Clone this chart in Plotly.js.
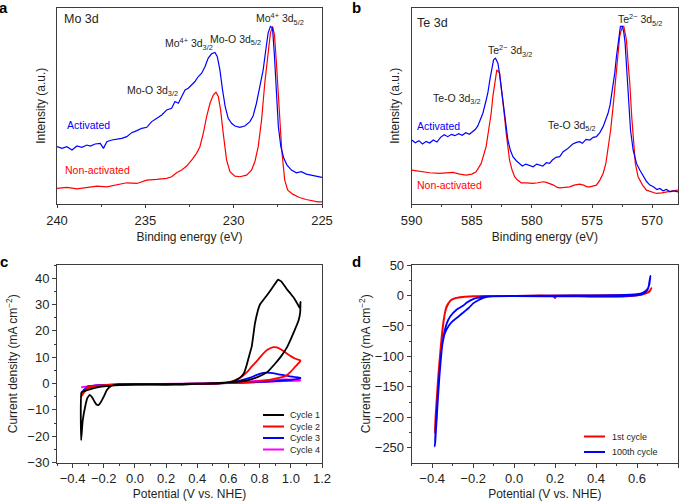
<!DOCTYPE html>
<html>
<head>
<meta charset="utf-8">
<script src="https://cdn.plot.ly/plotly-3.0.1.min.js"></script>
<style>html,body{margin:0;padding:0;background:#fff;}#chart{width:685px;height:501px;}</style>
</head>
<body>
<div id="chart"></div>
<script>
// ---------- Panel a: Mo 3d XPS ----------
const moEnergyAct = [240.0,239.72,239.44,239.15,238.87,238.59,238.31,238.12,237.84,237.55,237.37,237.18,236.9,236.61,236.33,236.05,235.77,235.48,235.2,234.92,234.64,234.35,234.07,233.79,233.51,233.32,233.13,232.94,232.75,232.57,232.38,232.19,232.0,231.81,231.62,231.44,231.25,231.06,230.93,230.78,230.63,230.48,230.31,230.12,229.93,229.65,229.37,229.08,228.9,228.71,228.52,228.33,228.18,228.05,227.92,227.8,227.69,227.58,227.47,227.33,227.16,226.98,226.73,226.45,226.17,225.89,225.6,225.32,225.0];
const moIntAct = [170,165,170,160,172,168,175,172,178,180,165,185,190,192,195,200,212,218,225,228,245,255,265,280,285,305,300,320,340,345,355,365,380,390,410,435,448,452,440,400,340,290,255,240,232,228,232,245,262,300,350,400,460,510,530,525,440,330,230,170,135,115,100,92,95,88,85,82,78];
const moEnergyNon = [240,239.44,238.87,238.31,237.74,237.18,236.61,236.05,235.48,234.92,234.35,233.79,233.51,233.23,232.94,232.66,232.38,232.1,231.91,231.72,231.53,231.34,231.15,231.0,230.87,230.74,230.59,230.4,230.21,229.93,229.65,229.27,228.99,228.8,228.61,228.42,228.24,228.05,227.92,227.8,227.69,227.58,227.43,227.28,227.11,226.94,226.66,226.28,225.9,225.52,225.24,225.0];
const moIntNon = [45,48,44,49,52,50,56,62,60,70,72,75,80,92,100,112,130,150,170,210,260,300,325,333,320,280,210,130,95,82,80,85,100,125,170,250,360,450,510,530,505,420,290,160,70,40,28,18,12,8,5,5];

// ---------- Panel b: Te 3d XPS ----------
const teEnergyAct = [590.0,589.7,589.4,589.1,588.8,588.5,588.2,587.9,587.6,587.3,587.0,586.7,586.4,586.1,585.8,585.5,585.2,584.9,584.7,584.5,584.3,584.08,583.87,583.67,583.5,583.39,583.19,583.03,582.83,582.7,582.56,582.42,582.28,582.14,582.0,581.8,581.58,581.3,581.03,580.8,580.5,580.19,579.9,579.6,579.36,579.1,578.8,578.53,578.3,578.0,577.69,577.4,577.1,576.86,576.6,576.3,576.03,575.8,575.5,575.19,574.9,574.64,574.35,574.08,573.85,573.67,573.5,573.39,573.25,573.11,572.97,572.83,572.64,572.47,572.35,572.25,572.1,571.97,571.8,571.58,571.3,571.03,570.7,570.45,570.19,569.9,569.6,569.36,569.1,568.8,568.53,568.2,567.85];
const teIntAct = [190,182,188,178,186,181,190,184,198,206,200,207,203,209,204,212,207,216,222,232,250,270,300,330,370,395,430,435,420,390,350,300,260,220,190,160,140,128,120,112,118,115,110,118,115,112,122,120,130,138,140,155,162,170,178,183,185,180,192,190,198,200,212,230,250,270,295,320,350,390,440,480,530,530,510,480,400,310,220,160,120,100,80,65,55,50,42,45,38,42,35,38,35];
const teEnergyNon = [590.0,589.5,589.08,588.5,587.69,587.1,586.58,586.0,585.47,585.0,584.64,584.22,583.81,583.6,583.39,583.25,583.11,582.92,582.69,582.55,582.42,582.28,582.14,582.0,581.86,581.65,581.44,581.2,580.89,580.5,580.2,579.92,579.5,579.08,578.8,578.53,578.2,577.9,577.69,577.3,576.86,576.5,576.03,575.7,575.4,575.19,574.9,574.64,574.35,574.08,573.85,573.67,573.45,573.25,573.05,572.83,572.7,572.56,572.45,572.36,572.25,572.14,572.0,571.86,571.7,571.58,571.4,571.17,570.8,570.47,570.0,569.64,569.2,568.81,568.3,567.85];
const teIntNon = [100,97,95,92,90,92,93,88,85,88,95,120,170,220,270,320,360,400,390,350,310,260,210,170,130,100,80,70,62,62,60,60,62,65,63,60,55,48,47,48,50,55,58,55,50,50,52,55,70,90,120,160,220,290,370,440,500,520,530,530,510,490,420,360,260,190,120,80,55,40,33,30,32,35,38,40];

// ---------- Panel c: CV cycles ----------
const cyc1V = [-0.345,-0.335,-0.32,-0.305,-0.29,-0.275,-0.26,-0.245,-0.235,-0.22,-0.2,-0.18,-0.16,-0.13,-0.1,0.0,0.2,0.4,0.55,0.6,0.64,0.68,0.7,0.717,0.735,0.749,0.77,0.79,0.802,0.847,0.889,0.918,0.94,0.97,1.0,1.02,1.045,1.058,1.062,1.06,1.05,1.02,0.977,0.935,0.9,0.85,0.79,0.72,0.64,0.5,0.3,0.2,0.0,-0.1,-0.2,-0.25,-0.3,-0.342,-0.345];
const cyc1J = [-21.5,-14,-9,-5.5,-4.3,-5.2,-6.8,-8.1,-8.2,-7.2,-5,-2.5,-1.2,-0.5,-0.3,-0.2,-0.2,-0.1,0.1,0.4,1.0,2.5,4.0,7,11,14,22.8,28,30,33.5,37,39.4,38.7,36.2,34,32.5,30,28.5,31,27,24,19.6,13.9,10.1,7.6,4.4,2.5,1.2,0.5,0.1,-0.4,-0.5,-0.4,-0.6,-1.1,-1.6,-2.4,-3.3,-21.5];
const cyc2V = [-0.345,-0.33,-0.3,-0.25,-0.2,-0.1,0.0,0.2,0.4,0.55,0.6,0.64,0.68,0.72,0.75,0.786,0.82,0.85,0.888,0.91,0.94,0.97,1.0,1.03,1.06,1.06,1.03,1.0,0.97,0.93,0.88,0.82,0.75,0.65,0.5,0.3,0.0,-0.2,-0.3,-0.345];
const cyc2J = [-5,-3,-1.8,-1.0,-0.6,-0.3,-0.2,-0.2,-0.1,0.1,0.4,1.2,2.4,4.4,6.5,8.8,11.2,12.8,13.8,13.7,12.8,11.6,10.4,9.4,8.8,8.4,6.5,4.5,3.0,2.2,1.6,1.0,0.6,0.3,0.0,-0.3,-0.3,-0.7,-1.2,-5];
const cyc3V = [-0.345,-0.33,-0.3,-0.25,-0.2,-0.1,0.0,0.2,0.4,0.55,0.62,0.68,0.74,0.79,0.84,0.87,0.92,0.97,1.02,1.06,1.06,1.0,0.9,0.8,0.7,0.5,0.3,0.0,-0.2,-0.3,-0.345];
const cyc3J = [-3.8,-2.5,-1.5,-0.9,-0.6,-0.3,-0.2,-0.2,-0.1,0.1,0.5,1.2,2.2,3.5,4.1,4.0,3.5,3.0,2.5,2.2,1.9,1.4,0.9,0.6,0.3,0.0,-0.2,-0.3,-0.6,-1.1,-3.8];
const cyc4V = [-0.345,-0.3,-0.2,0.0,0.3,0.5,0.6,0.7,0.8,0.9,0.97,1.02,1.06,1.06,0.95,0.8,0.6,0.3,0.0,-0.2,-0.3,-0.345];
const cyc4J = [-1.5,-1.0,-0.5,-0.2,-0.2,0.0,0.3,0.7,1.1,1.5,1.6,1.5,1.3,1.1,0.9,0.5,0.2,-0.1,-0.3,-0.6,-1.0,-1.5];
const cycNames = ['Cycle 1','Cycle 2','Cycle 3','Cycle 4'];

// ---------- Panel d: 1st vs 100th cycle ----------
const lsv1V = [0.67,0.66,0.64,0.6,0.5,0.3,0.0,-0.1,-0.15,-0.2,-0.22,-0.27,-0.3,-0.315,-0.33,-0.34,-0.35,-0.36,-0.37,-0.38,-0.388,-0.383,-0.375,-0.365,-0.355,-0.345,-0.335,-0.32,-0.305,-0.28,-0.25,-0.2,-0.1,0.0,0.19,0.2,0.205,0.4,0.55,0.6,0.64,0.66,0.67];
const lsv1J = [12,6,3,1.5,0.5,0,-0.5,-0.8,-0.8,-1.2,-1.5,-3,-6,-10,-18,-32,-55,-90,-130,-180,-225,-218,-170,-120,-78,-45,-25,-13,-7,-4,-2.5,-1.5,-0.8,-0.8,-1,-4.5,-1,-2,-1.5,0,3,7,12];
const lsv100V = [0.665,0.66,0.65,0.63,0.6,0.5,0.3,0.0,-0.08,-0.12,-0.15,-0.17,-0.2,-0.22,-0.248,-0.27,-0.3,-0.32,-0.338,-0.35,-0.36,-0.37,-0.38,-0.388,-0.385,-0.375,-0.365,-0.355,-0.345,-0.33,-0.313,-0.28,-0.25,-0.232,-0.2,-0.18,-0.15,-0.12,0.0,0.3,0.5,0.6,0.64,0.655,0.66,0.665];
const lsv100J = [32,18,10,5,2,0.5,0,-0.5,-1,-2,-4,-7,-13,-20,-28,-34,-42,-50,-62,-80,-108,-150,-200,-248,-240,-185,-135,-95,-68,-47,-35,-23,-17,-12,-6,-4,-2.5,-1.5,-1,-1.5,-1.5,0,5,12,22,32];
const lsvNames = ['1st cycle','100th cycle'];

// ---------- layout helpers ----------
const W = 685, H = 501;
const FONT = 'Liberation Sans, Arial, Helvetica, sans-serif';
const TXT = '#231f20';
const AX = '#3c3c3c';
const fx = p => p / W;
const fy = p => 1 - p / H;

function spec(x, y, color, xa, ya) {
  return {x, y, type: 'scatter', mode: 'lines', xaxis: xa, yaxis: ya, showlegend: false,
    line: {color, width: 1.2}, hoverinfo: 'skip'};
}
function cv(x, y, color, xa, ya, name, sm) {
  return {x, y, name, type: 'scatter', mode: 'lines', xaxis: xa, yaxis: ya, showlegend: false,
    line: {color, width: 1.8, shape: 'spline', smoothing: sm}};
}

const data = [
  spec(moEnergyNon, moIntNon, '#ff0000', 'x', 'y'),
  spec(moEnergyAct, moIntAct, '#0000ff', 'x', 'y'),
  spec(teEnergyNon, teIntNon, '#ff0000', 'x2', 'y2'),
  spec(teEnergyAct, teIntAct, '#0000ff', 'x2', 'y2'),
  cv(cyc4V, cyc4J, '#ff00ff', 'x3', 'y3', cycNames[3], 0.35),
  cv(cyc3V, cyc3J, '#0000ff', 'x3', 'y3', cycNames[2], 0.35),
  cv(cyc2V, cyc2J, '#ff0000', 'x3', 'y3', cycNames[1], 0.35),
  cv(cyc1V, cyc1J, '#000000', 'x3', 'y3', cycNames[0], 0.35),
  cv(lsv1V, lsv1J, '#ff0000', 'x4', 'y4', lsvNames[0], 0.5),
  cv(lsv100V, lsv100J, '#0000ff', 'x4', 'y4', lsvNames[1], 0.5)
];

const tickFont = {family: FONT, size: 13, color: TXT};
const titleFont = {family: FONT, size: 12, color: TXT};
function axBase(extra) {
  return Object.assign({
    showgrid: false, zeroline: false, showline: true, mirror: true,
    linecolor: AX, linewidth: 1, ticks: 'outside', ticklen: 4, tickwidth: 1, tickcolor: AX,
    tickfont: tickFont, automargin: false
  }, extra);
}

const dA = [fx(57), fx(322)], dB = [fx(411.7), fx(678)];
const dTop = [fy(203.5), fy(8)], dBot = [fy(462.5), fy(265)];

const layout = {
  width: W, height: H, margin: {l: 0, r: 0, t: 0, b: 0},
  paper_bgcolor: '#fff', plot_bgcolor: '#fff',
  font: {family: FONT, color: TXT},
  xaxis: axBase({domain: dA, anchor: 'y', range: [240, 225], dtick: 5, ticklen: 3, ticklabelstandoff: 2,
    minor: {ticks: 'outside', dtick: 2.5, ticklen: 2, tickcolor: AX},
    title: {text: 'Binding energy (eV)', font: titleFont, standoff: 5}}),
  yaxis: axBase({domain: dTop, anchor: 'x', range: [0, 585], showticklabels: false, ticks: '',
    title: {text: 'Intensity (a.u.)', font: titleFont, standoff: 7}}),
  xaxis2: axBase({domain: dB, anchor: 'y2', range: [590, 567.85], dtick: 5, ticklen: 3, ticklabelstandoff: 2,
    minor: {ticks: 'outside', dtick: 2.5, ticklen: 2, tickcolor: AX},
    title: {text: 'Binding energy (eV)', font: titleFont, standoff: 5}}),
  yaxis2: axBase({domain: dTop, anchor: 'x2', range: [0, 585], showticklabels: false, ticks: '',
    title: {text: 'Intensity (a.u.)', font: titleFont, standoff: 8}}),
  xaxis3: axBase({domain: dA, anchor: 'y3', range: [-0.5, 1.2], dtick: 0.2, tick0: 0, tickformat: '.1f',
    minor: {ticks: 'outside', dtick: 0.1, ticklen: 2, tickcolor: AX},
    title: {text: 'Potential (V vs. NHE)', font: titleFont, standoff: 4}}),
  yaxis3: axBase({domain: dBot, anchor: 'x3', range: [-30, 45], dtick: 10, tick0: 0,
    minor: {ticks: 'outside', dtick: 5, ticklen: 2, tickcolor: AX},
    title: {text: 'Current density (mA cm<sup>−2</sup>)', font: titleFont, standoff: 7}}),
  xaxis4: axBase({domain: dB, anchor: 'y4', range: [-0.5, 0.8], dtick: 0.2, tick0: 0, tickformat: '.1f',
    minor: {ticks: 'outside', dtick: 0.1, ticklen: 2, tickcolor: AX},
    title: {text: 'Potential (V vs. NHE)', font: titleFont, standoff: 4}}),
  yaxis4: axBase({domain: dBot, anchor: 'x4', range: [-274, 50], dtick: 50, tick0: 0,
    minor: {ticks: 'outside', dtick: 25, ticklen: 2, tickcolor: AX},
    title: {text: 'Current density (mA cm<sup>−2</sup>)', font: titleFont, standoff: 1}}),
  annotations: [],
  shapes: []
};

function note(text, x, y, opts) {
  layout.annotations.push(Object.assign({
    text, x: fx(x), y: fy(y), xref: 'paper', yref: 'paper', showarrow: false,
    xanchor: 'center', yanchor: 'middle', font: {family: FONT, size: 10.5, color: TXT}
  }, opts || {}));
}
// panel letters
[['a', 3.5, 8], ['b', 356, 7.5], ['c', 3.5, 261], ['d', 356, 261]].forEach(([t, x, y]) =>
  note('<b>' + t + '</b>', x, y, {font: {family: FONT, size: 15, color: '#000'}}));

// panel a labels
note('Mo 3d', 62, 19, {xanchor: 'left', font: {family: FONT, size: 12.5, color: TXT}});
note('Mo<sup>4+</sup> 3d<sub>5/2</sub>', 280, 19);
note('Mo-O 3d<sub>5/2</sub>', 235, 40);
note('Mo<sup>4+</sup> 3d<sub>3/2</sub>', 189, 44);
note('Mo-O 3d<sub>3/2</sub>', 152, 91);
note('Activated', 65, 125, {xanchor: 'left', font: {family: FONT, size: 10.5, color: '#0000ff'}});
note('Non-activated', 63, 170, {xanchor: 'left', font: {family: FONT, size: 10.5, color: '#ff0000'}});
// panel b labels
note('Te 3d', 415, 23, {xanchor: 'left', font: {family: FONT, size: 12.5, color: TXT}});
note('Te<sup>2−</sup> 3d<sub>5/2</sub>', 640, 20);
note('Te<sup>2−</sup> 3d<sub>3/2</sub>', 510, 51);
note('Te-O 3d<sub>3/2</sub>', 457, 99);
note('Te-O 3d<sub>5/2</sub>', 572, 126);
note('Activated', 415, 126, {xanchor: 'left', font: {family: FONT, size: 10.5, color: '#0000ff'}});
note('Non-activated', 415, 185, {xanchor: 'left', font: {family: FONT, size: 10.5, color: '#ff0000'}});

// compact legends (sample line + label), matching the reference's tight spacing
function legendRow(label, color, x0, x1, y, tx) {
  layout.shapes.push({type: 'line', xref: 'paper', yref: 'paper', x0: fx(x0), x1: fx(x1), y0: fy(y), y1: fy(y),
    line: {color, width: 2}});
  note(label, tx, y, {xanchor: 'left', font: {family: FONT, size: 9, color: TXT}});
}
const cycColors = ['#000000', '#ff0000', '#0000ff', '#ff00ff'];
cycNames.forEach((n, i) => legendRow(n, cycColors[i], 263, 284, 415 + i * 11.5, 288));
const lsvColors = ['#ff0000', '#0000ff'];
lsvNames.forEach((n, i) => legendRow(n, lsvColors[i], 584, 605, 436.5 + i * 15.5, 610));

Plotly.newPlot('chart', data, layout, {displayModeBar: false});
</script>
</body>
</html>
